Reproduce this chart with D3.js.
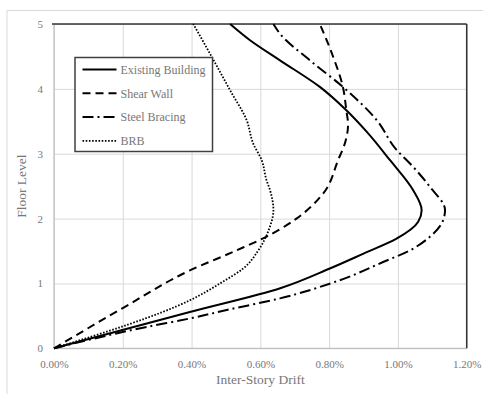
<!DOCTYPE html>
<html>
<head>
<meta charset="utf-8">
<script src="https://cdn.jsdelivr.net/npm/d3@7"></script>
<style>
  body { margin: 0; background: #fff; }
  svg, svg text { font-family: "Liberation Serif", "Times New Roman", Times, "DejaVu Serif", serif !important; }
</style>
</head>
<body>
<svg id="chart" width="483" height="394"></svg>
<script>
// Data: [drift %, floor level]
const existingBuilding = [[0,0],[0.395,0.56],[0.66,0.93],[0.802,1.23],[0.9,1.46],[0.996,1.69],[1.059,1.95],[1.069,2.13],[1.044,2.44],[0.977,2.9],[0.909,3.34],[0.85,3.67],[0.773,4.03],[0.657,4.44],[0.57,4.75],[0.512,5]];
const shearWall = [[0,0],[0.2,0.62],[0.395,1.2],[0.531,1.51],[0.608,1.695],[0.705,2.0],[0.783,2.39],[0.826,2.9],[0.848,3.2],[0.855,3.45],[0.85,3.67],[0.84,4.03],[0.812,4.49],[0.773,5]];
const steelBracing = [[0,0],[0.27,0.33],[0.395,0.46],[0.502,0.59],[0.657,0.77],[0.831,1.05],[0.957,1.33],[1.035,1.51],[1.093,1.72],[1.132,1.98],[1.137,2.13],[1.093,2.49],[1.035,2.85],[0.996,3.06],[0.938,3.52],[0.84,4.03],[0.744,4.44],[0.657,4.85],[0.638,5]];
const brb = [[0,0],[0.395,0.74],[0.492,1.03],[0.55,1.23],[0.594,1.51],[0.624,1.82],[0.638,2.13],[0.628,2.44],[0.618,2.59],[0.604,2.9],[0.579,3.16],[0.56,3.52],[0.515,3.95],[0.458,4.5],[0.405,5]];

const seriesNames = ["Existing Building", "Shear Wall", "Steel Bracing", "BRB"];
const xTicks = [0, 0.2, 0.4, 0.6, 0.8, 1.0, 1.2];
const yTicks = [0, 1, 2, 3, 4, 5];

// Line styles per series
const dashes = ["none", "8,5", "11,4,2,4", "1.6,1.6"];
const widths = [2, 2, 2, 1.8];

const series = [existingBuilding, shearWall, steelBracing, brb].map((pts, i) => ({
    name: seriesNames[i], pts, dash: dashes[i], width: widths[i]
}));

const margin = { top: 24, right: 16.3, bottom: 45.7, left: 54 };
const W = 483, H = 394;
const width = W - margin.left - margin.right;
const height = H - margin.top - margin.bottom;
const FONT = '"Liberation Serif", "Times New Roman", Times, serif';

const svg = d3.select("#chart");

// outer chart border
svg.append("rect")
    .attr("x", 7).attr("y", 10.5)
    .attr("width", 600).attr("height", 600)
    .attr("fill", "none")
    .attr("stroke", "#d9d9d9")
    .attr("stroke-width", 1);

const g = svg.append("g")
    .attr("transform", `translate(${margin.left},${margin.top})`);

const xScale = d3.scaleLinear().domain([0, 1.2]).range([0, width]);
const yScale = d3.scaleLinear().domain([0, 5]).range([height, 0]);

// gridlines
g.append("g")
    .call(d3.axisBottom(xScale).tickValues(xTicks).tickSize(height).tickFormat(""))
    .call(s => s.select(".domain").remove())
    .selectAll("line").attr("stroke", "#d9d9d9");

g.append("g")
    .attr("transform", `translate(${width},0)`)
    .call(d3.axisLeft(yScale).tickValues(yTicks).tickSize(width).tickFormat(""))
    .call(s => s.select(".domain").remove())
    .selectAll("line").attr("stroke", "#d9d9d9");

// axis lines (left/bottom light, top/right dark)
g.append("line").attr("x1", 0).attr("x2", 0).attr("y1", 0).attr("y2", height)
    .attr("stroke", "#bfbfbf").attr("stroke-width", 1.2);
g.append("line").attr("x1", 0).attr("x2", width).attr("y1", height).attr("y2", height)
    .attr("stroke", "#bfbfbf").attr("stroke-width", 1.2);
g.append("line").attr("x1", -2).attr("x2", width).attr("y1", 0).attr("y2", 0)
    .attr("stroke", "#333").attr("stroke-width", 1.5);
g.append("line").attr("x1", width).attr("x2", width).attr("y1", 0).attr("y2", height)
    .attr("stroke", "#333").attr("stroke-width", 1.5);

// tick labels
g.append("g")
    .attr("transform", `translate(0,${height})`)
    .call(d3.axisBottom(xScale).tickValues(xTicks).tickSize(0).tickPadding(12)
        .tickFormat(d => d.toFixed(2) + "%"))
    .call(s => s.select(".domain").remove())
    .attr("font-family", FONT)
    .selectAll("text")
        .attr("fill", "#777")
        .style("font-size", "11px");

g.append("g")
    .call(d3.axisLeft(yScale).tickValues(yTicks).tickSize(0).tickPadding(11)
        .tickFormat(d3.format("d")))
    .call(s => s.select(".domain").remove())
    .attr("font-family", FONT)
    .selectAll("text")
        .attr("fill", "#777")
        .style("font-size", "11px");

// axis titles
g.append("text")
    .attr("x", width / 2)
    .attr("y", height + 36)
    .attr("text-anchor", "middle")
    .attr("fill", "#777")
    .style("font-size", "13.5px")
    .text("Inter-Story Drift");

g.append("text")
    .attr("transform", "rotate(-90)")
    .attr("x", -height / 2)
    .attr("y", -28)
    .attr("text-anchor", "middle")
    .attr("fill", "#777")
    .style("font-size", "13.5px")
    .text("Floor Level");

// lines
const lineGenerator = d3.line()
    .x(d => xScale(d[0]))
    .y(d => yScale(d[1]))
    .curve(d3.curveMonotoneY);

g.selectAll(".series-line")
    .data(series)
    .enter()
    .append("path")
        .attr("class", "series-line")
        .attr("fill", "none")
        .attr("stroke", "#000")
        .attr("stroke-width", d => d.width)
        .attr("stroke-dasharray", d => d.dash)
        .attr("d", d => lineGenerator(d.pts));

// legend
const legend = svg.append("g").attr("transform", "translate(75,57.5)");
legend.append("rect")
    .attr("width", 137.5).attr("height", 94)
    .attr("fill", "#fff")
    .attr("stroke", "#404040")
    .attr("stroke-width", 1.5);

const items = legend.selectAll(".legend-item")
    .data(series)
    .enter()
    .append("g")
        .attr("class", "legend-item")
        .attr("transform", (d, i) => `translate(0,${12 + i * 23.8})`);

items.append("line")
    .attr("x1", 7.5).attr("x2", 41.5)
    .attr("stroke", "#000")
    .attr("stroke-width", d => d.width)
    .attr("stroke-dasharray", d => d.dash);

items.append("text")
    .attr("x", 45.5)
    .attr("y", 4.2)
    .attr("fill", "#777")
    .style("font-size", "12px")
    .text(d => d.name);
</script>
</body>
</html>
